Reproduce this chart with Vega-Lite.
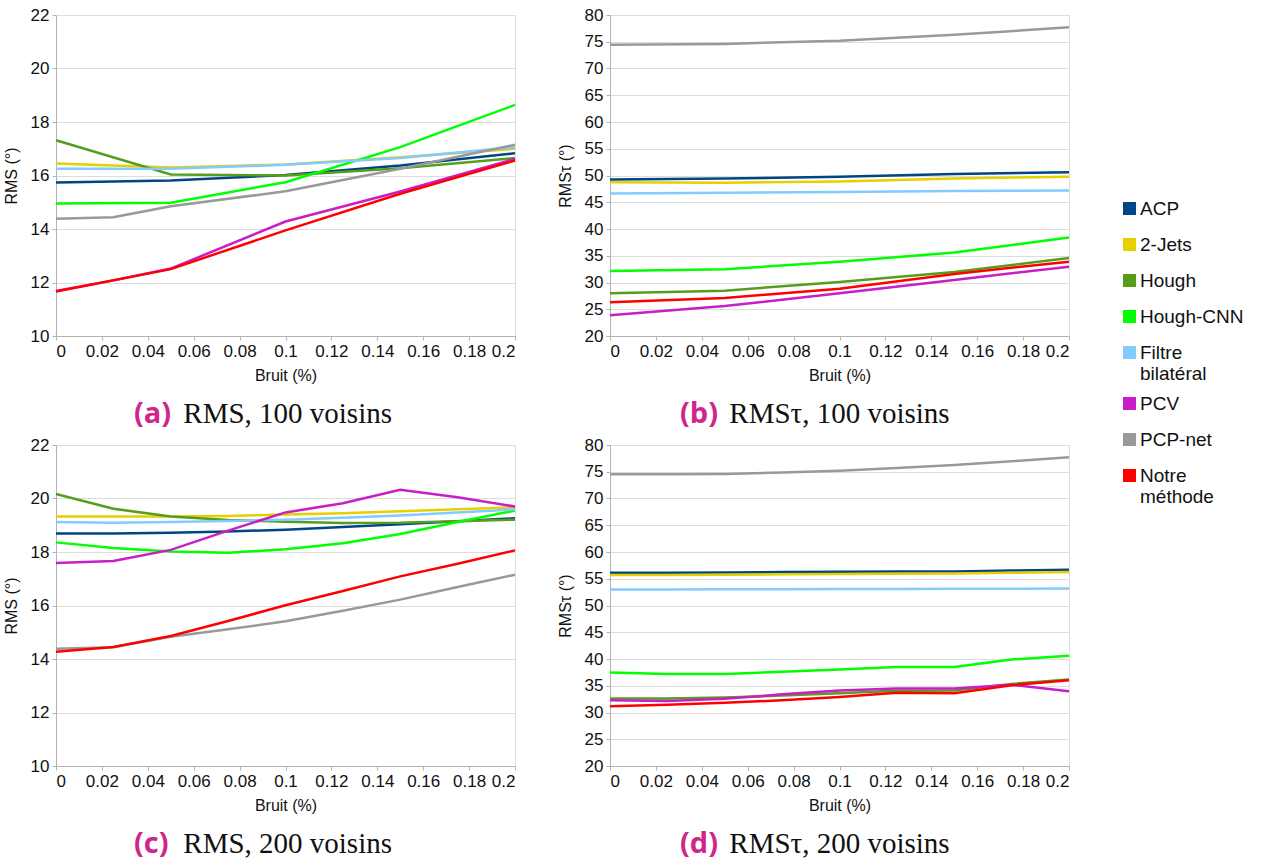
{
  "$schema": "https://vega.github.io/schema/vega-lite/v6.json",
  "background": "white",
  "padding": {"left": 2, "top": 5, "right": 5, "bottom": 5},
  "config": {
    "font": "Liberation Sans",
    "view": {"stroke": "#dddddd", "strokeWidth": 1},
    "axis": {
      "labelFont": "Liberation Sans", "labelFontSize": 17, "labelColor": "#111111",
      "titleFont": "Liberation Sans", "titleFontSize": 16, "titleFontWeight": "normal", "titleColor": "#111111",
      "domainColor": "#b3b3b3", "tickColor": "#b3b3b3", "tickSize": 4,
      "gridColor": "#dddddd", "titlePadding": 8, "labelPadding": 3
    },
    "axisX": {"grid": false},
    "axisY": {"grid": true, "titlePadding": 11},
    "title": {
      "orient": "bottom", "anchor": "start", "frame": "group", "offset": 17,
      "font": "Open Sans", "fontWeight": "bold", "fontSize": 29, "color": "#d0268c",
      "subtitleFont": "Liberation Serif", "subtitleFontSize": 29, "subtitleFontWeight": "normal", "subtitleColor": "#111111",
      "subtitlePadding": -29
    },
    "legend": {
      "symbolType": "square", "symbolSize": 42, "symbolStrokeWidth": 6.5,
      "labelFont": "Liberation Sans", "labelFontSize": 19, "labelColor": "#111111",
      "rowPadding": 3, "labelOffset": 1, "labelLimit": 300
    }
  },
  "datasets": {
    "d": [
      {"p":"a","m":"ACP","x":0,"y":15.74},{"p":"a","m":"ACP","x":0.05,"y":15.81},{"p":"a","m":"ACP","x":0.1,"y":16.02},{"p":"a","m":"ACP","x":0.15,"y":16.37},{"p":"a","m":"ACP","x":0.2,"y":16.83},
      {"p":"a","m":"2-Jets","x":0,"y":16.45},{"p":"a","m":"2-Jets","x":0.05,"y":16.3},{"p":"a","m":"2-Jets","x":0.1,"y":16.41},{"p":"a","m":"2-Jets","x":0.15,"y":16.68},{"p":"a","m":"2-Jets","x":0.2,"y":17.0},
      {"p":"a","m":"Hough","x":0,"y":17.32},{"p":"a","m":"Hough","x":0.05,"y":16.04},{"p":"a","m":"Hough","x":0.1,"y":16.0},{"p":"a","m":"Hough","x":0.15,"y":16.27},{"p":"a","m":"Hough","x":0.2,"y":16.65},
      {"p":"a","m":"Hough-CNN","x":0,"y":14.95},{"p":"a","m":"Hough-CNN","x":0.05,"y":14.98},{"p":"a","m":"Hough-CNN","x":0.1,"y":15.75},{"p":"a","m":"Hough-CNN","x":0.15,"y":17.06},{"p":"a","m":"Hough-CNN","x":0.2,"y":18.64},
      {"p":"a","m":"Filtre bilatéral","x":0,"y":16.25},{"p":"a","m":"Filtre bilatéral","x":0.05,"y":16.25},{"p":"a","m":"Filtre bilatéral","x":0.1,"y":16.4},{"p":"a","m":"Filtre bilatéral","x":0.15,"y":16.65},{"p":"a","m":"Filtre bilatéral","x":0.2,"y":17.06},
      {"p":"a","m":"PCV","x":0,"y":11.68},{"p":"a","m":"PCV","x":0.025,"y":12.08},{"p":"a","m":"PCV","x":0.05,"y":12.52},{"p":"a","m":"PCV","x":0.1,"y":14.28},{"p":"a","m":"PCV","x":0.15,"y":15.4},{"p":"a","m":"PCV","x":0.2,"y":16.62},
      {"p":"a","m":"PCP-net","x":0,"y":14.38},{"p":"a","m":"PCP-net","x":0.025,"y":14.44},{"p":"a","m":"PCP-net","x":0.05,"y":14.85},{"p":"a","m":"PCP-net","x":0.1,"y":15.41},{"p":"a","m":"PCP-net","x":0.15,"y":16.25},{"p":"a","m":"PCP-net","x":0.2,"y":17.15},
      {"p":"a","m":"Notre méthode","x":0,"y":11.66},{"p":"a","m":"Notre méthode","x":0.05,"y":12.5},{"p":"a","m":"Notre méthode","x":0.1,"y":13.95},{"p":"a","m":"Notre méthode","x":0.15,"y":15.32},{"p":"a","m":"Notre méthode","x":0.2,"y":16.56},

      {"p":"b","m":"ACP","x":0,"y":49.26},{"p":"b","m":"ACP","x":0.05,"y":49.45},{"p":"b","m":"ACP","x":0.1,"y":49.75},{"p":"b","m":"ACP","x":0.15,"y":50.3},{"p":"b","m":"ACP","x":0.2,"y":50.6},
      {"p":"b","m":"2-Jets","x":0,"y":48.76},{"p":"b","m":"2-Jets","x":0.05,"y":48.64},{"p":"b","m":"2-Jets","x":0.1,"y":48.9},{"p":"b","m":"2-Jets","x":0.15,"y":49.45},{"p":"b","m":"2-Jets","x":0.2,"y":49.75},
      {"p":"b","m":"Hough","x":0,"y":27.98},{"p":"b","m":"Hough","x":0.05,"y":28.48},{"p":"b","m":"Hough","x":0.1,"y":30.1},{"p":"b","m":"Hough","x":0.15,"y":31.96},{"p":"b","m":"Hough","x":0.2,"y":34.6},
      {"p":"b","m":"Hough-CNN","x":0,"y":32.15},{"p":"b","m":"Hough-CNN","x":0.05,"y":32.46},{"p":"b","m":"Hough-CNN","x":0.1,"y":33.9},{"p":"b","m":"Hough-CNN","x":0.15,"y":35.6},{"p":"b","m":"Hough-CNN","x":0.2,"y":38.4},
      {"p":"b","m":"Filtre bilatéral","x":0,"y":46.65},{"p":"b","m":"Filtre bilatéral","x":0.05,"y":46.77},{"p":"b","m":"Filtre bilatéral","x":0.1,"y":46.9},{"p":"b","m":"Filtre bilatéral","x":0.15,"y":47.1},{"p":"b","m":"Filtre bilatéral","x":0.2,"y":47.2},
      {"p":"b","m":"PCV","x":0,"y":23.87},{"p":"b","m":"PCV","x":0.05,"y":25.6},{"p":"b","m":"PCV","x":0.1,"y":27.98},{"p":"b","m":"PCV","x":0.15,"y":30.47},{"p":"b","m":"PCV","x":0.2,"y":32.96},
      {"p":"b","m":"PCP-net","x":0,"y":74.46},{"p":"b","m":"PCP-net","x":0.05,"y":74.6},{"p":"b","m":"PCP-net","x":0.1,"y":75.2},{"p":"b","m":"PCP-net","x":0.15,"y":76.3},{"p":"b","m":"PCP-net","x":0.2,"y":77.7},
      {"p":"b","m":"Notre méthode","x":0,"y":26.3},{"p":"b","m":"Notre méthode","x":0.05,"y":27.1},{"p":"b","m":"Notre méthode","x":0.1,"y":28.85},{"p":"b","m":"Notre méthode","x":0.15,"y":31.6},{"p":"b","m":"Notre méthode","x":0.2,"y":33.9},

      {"p":"c","m":"ACP","x":0,"y":18.69},{"p":"c","m":"ACP","x":0.025,"y":18.69},{"p":"c","m":"ACP","x":0.05,"y":18.72},{"p":"c","m":"ACP","x":0.075,"y":18.77},{"p":"c","m":"ACP","x":0.1,"y":18.83},{"p":"c","m":"ACP","x":0.125,"y":18.93},{"p":"c","m":"ACP","x":0.15,"y":19.04},{"p":"c","m":"ACP","x":0.175,"y":19.15},{"p":"c","m":"ACP","x":0.2,"y":19.26},
      {"p":"c","m":"2-Jets","x":0,"y":19.33},{"p":"c","m":"2-Jets","x":0.025,"y":19.33},{"p":"c","m":"2-Jets","x":0.05,"y":19.33},{"p":"c","m":"2-Jets","x":0.075,"y":19.35},{"p":"c","m":"2-Jets","x":0.1,"y":19.4},{"p":"c","m":"2-Jets","x":0.125,"y":19.45},{"p":"c","m":"2-Jets","x":0.15,"y":19.52},{"p":"c","m":"2-Jets","x":0.175,"y":19.6},{"p":"c","m":"2-Jets","x":0.2,"y":19.67},
      {"p":"c","m":"Hough","x":0,"y":20.17},{"p":"c","m":"Hough","x":0.025,"y":19.62},{"p":"c","m":"Hough","x":0.05,"y":19.33},{"p":"c","m":"Hough","x":0.075,"y":19.2},{"p":"c","m":"Hough","x":0.1,"y":19.13},{"p":"c","m":"Hough","x":0.125,"y":19.08},{"p":"c","m":"Hough","x":0.15,"y":19.09},{"p":"c","m":"Hough","x":0.175,"y":19.15},{"p":"c","m":"Hough","x":0.2,"y":19.21},
      {"p":"c","m":"Hough-CNN","x":0,"y":18.36},{"p":"c","m":"Hough-CNN","x":0.025,"y":18.15},{"p":"c","m":"Hough-CNN","x":0.05,"y":18.02},{"p":"c","m":"Hough-CNN","x":0.075,"y":17.97},{"p":"c","m":"Hough-CNN","x":0.1,"y":18.1},{"p":"c","m":"Hough-CNN","x":0.125,"y":18.33},{"p":"c","m":"Hough-CNN","x":0.15,"y":18.67},{"p":"c","m":"Hough-CNN","x":0.175,"y":19.12},{"p":"c","m":"Hough-CNN","x":0.2,"y":19.55},
      {"p":"c","m":"Filtre bilatéral","x":0,"y":19.12},{"p":"c","m":"Filtre bilatéral","x":0.025,"y":19.09},{"p":"c","m":"Filtre bilatéral","x":0.05,"y":19.12},{"p":"c","m":"Filtre bilatéral","x":0.075,"y":19.16},{"p":"c","m":"Filtre bilatéral","x":0.1,"y":19.21},{"p":"c","m":"Filtre bilatéral","x":0.125,"y":19.28},{"p":"c","m":"Filtre bilatéral","x":0.15,"y":19.36},{"p":"c","m":"Filtre bilatéral","x":0.175,"y":19.48},{"p":"c","m":"Filtre bilatéral","x":0.2,"y":19.59},
      {"p":"c","m":"PCV","x":0,"y":17.59},{"p":"c","m":"PCV","x":0.025,"y":17.66},{"p":"c","m":"PCV","x":0.05,"y":18.08},{"p":"c","m":"PCV","x":0.075,"y":18.8},{"p":"c","m":"PCV","x":0.1,"y":19.48},{"p":"c","m":"PCV","x":0.125,"y":19.82},{"p":"c","m":"PCV","x":0.15,"y":20.33},{"p":"c","m":"PCV","x":0.175,"y":20.05},{"p":"c","m":"PCV","x":0.2,"y":19.7},
      {"p":"c","m":"PCP-net","x":0,"y":14.38},{"p":"c","m":"PCP-net","x":0.025,"y":14.44},{"p":"c","m":"PCP-net","x":0.05,"y":14.83},{"p":"c","m":"PCP-net","x":0.075,"y":15.11},{"p":"c","m":"PCP-net","x":0.1,"y":15.41},{"p":"c","m":"PCP-net","x":0.125,"y":15.8},{"p":"c","m":"PCP-net","x":0.15,"y":16.22},{"p":"c","m":"PCP-net","x":0.175,"y":16.69},{"p":"c","m":"PCP-net","x":0.2,"y":17.15},
      {"p":"c","m":"Notre méthode","x":0,"y":14.27},{"p":"c","m":"Notre méthode","x":0.025,"y":14.45},{"p":"c","m":"Notre méthode","x":0.05,"y":14.86},{"p":"c","m":"Notre méthode","x":0.075,"y":15.42},{"p":"c","m":"Notre méthode","x":0.1,"y":16.01},{"p":"c","m":"Notre méthode","x":0.125,"y":16.54},{"p":"c","m":"Notre méthode","x":0.15,"y":17.09},{"p":"c","m":"Notre méthode","x":0.175,"y":17.56},{"p":"c","m":"Notre méthode","x":0.2,"y":18.06},

      {"p":"d","m":"ACP","x":0,"y":56.12},{"p":"d","m":"ACP","x":0.025,"y":56.14},{"p":"d","m":"ACP","x":0.05,"y":56.18},{"p":"d","m":"ACP","x":0.075,"y":56.24},{"p":"d","m":"ACP","x":0.1,"y":56.3},{"p":"d","m":"ACP","x":0.125,"y":56.34},{"p":"d","m":"ACP","x":0.15,"y":56.37},{"p":"d","m":"ACP","x":0.175,"y":56.52},{"p":"d","m":"ACP","x":0.2,"y":56.68},
      {"p":"d","m":"2-Jets","x":0,"y":55.68},{"p":"d","m":"2-Jets","x":0.025,"y":55.72},{"p":"d","m":"2-Jets","x":0.05,"y":55.76},{"p":"d","m":"2-Jets","x":0.075,"y":55.82},{"p":"d","m":"2-Jets","x":0.1,"y":55.87},{"p":"d","m":"2-Jets","x":0.125,"y":55.94},{"p":"d","m":"2-Jets","x":0.15,"y":56.0},{"p":"d","m":"2-Jets","x":0.175,"y":56.12},{"p":"d","m":"2-Jets","x":0.2,"y":56.25},
      {"p":"d","m":"Hough","x":0,"y":32.6},{"p":"d","m":"Hough","x":0.025,"y":32.6},{"p":"d","m":"Hough","x":0.05,"y":32.8},{"p":"d","m":"Hough","x":0.075,"y":33.17},{"p":"d","m":"Hough","x":0.1,"y":33.6},{"p":"d","m":"Hough","x":0.125,"y":34.05},{"p":"d","m":"Hough","x":0.15,"y":34.1},{"p":"d","m":"Hough","x":0.175,"y":35.35},{"p":"d","m":"Hough","x":0.2,"y":36.16},
      {"p":"d","m":"Hough-CNN","x":0,"y":37.46},{"p":"d","m":"Hough-CNN","x":0.025,"y":37.2},{"p":"d","m":"Hough-CNN","x":0.05,"y":37.2},{"p":"d","m":"Hough-CNN","x":0.075,"y":37.6},{"p":"d","m":"Hough-CNN","x":0.1,"y":38.02},{"p":"d","m":"Hough-CNN","x":0.125,"y":38.52},{"p":"d","m":"Hough-CNN","x":0.15,"y":38.52},{"p":"d","m":"Hough-CNN","x":0.175,"y":39.9},{"p":"d","m":"Hough-CNN","x":0.2,"y":40.63},
      {"p":"d","m":"Filtre bilatéral","x":0,"y":53.0},{"p":"d","m":"Filtre bilatéral","x":0.025,"y":53.0},{"p":"d","m":"Filtre bilatéral","x":0.05,"y":53.02},{"p":"d","m":"Filtre bilatéral","x":0.075,"y":53.04},{"p":"d","m":"Filtre bilatéral","x":0.1,"y":53.07},{"p":"d","m":"Filtre bilatéral","x":0.125,"y":53.1},{"p":"d","m":"Filtre bilatéral","x":0.15,"y":53.12},{"p":"d","m":"Filtre bilatéral","x":0.175,"y":53.15},{"p":"d","m":"Filtre bilatéral","x":0.2,"y":53.18},
      {"p":"d","m":"PCV","x":0,"y":32.3},{"p":"d","m":"PCV","x":0.025,"y":32.17},{"p":"d","m":"PCV","x":0.05,"y":32.55},{"p":"d","m":"PCV","x":0.075,"y":33.4},{"p":"d","m":"PCV","x":0.1,"y":34.1},{"p":"d","m":"PCV","x":0.125,"y":34.48},{"p":"d","m":"PCV","x":0.15,"y":34.48},{"p":"d","m":"PCV","x":0.175,"y":35.2},{"p":"d","m":"PCV","x":0.2,"y":33.98},
      {"p":"d","m":"PCP-net","x":0,"y":74.53},{"p":"d","m":"PCP-net","x":0.025,"y":74.55},{"p":"d","m":"PCP-net","x":0.05,"y":74.6},{"p":"d","m":"PCP-net","x":0.075,"y":74.85},{"p":"d","m":"PCP-net","x":0.1,"y":75.2},{"p":"d","m":"PCP-net","x":0.125,"y":75.7},{"p":"d","m":"PCP-net","x":0.15,"y":76.27},{"p":"d","m":"PCP-net","x":0.175,"y":76.95},{"p":"d","m":"PCP-net","x":0.2,"y":77.7},
      {"p":"d","m":"Notre méthode","x":0,"y":31.18},{"p":"d","m":"Notre méthode","x":0.025,"y":31.43},{"p":"d","m":"Notre méthode","x":0.05,"y":31.8},{"p":"d","m":"Notre méthode","x":0.075,"y":32.3},{"p":"d","m":"Notre méthode","x":0.1,"y":32.92},{"p":"d","m":"Notre méthode","x":0.125,"y":33.67},{"p":"d","m":"Notre méthode","x":0.15,"y":33.6},{"p":"d","m":"Notre méthode","x":0.175,"y":35.1},{"p":"d","m":"Notre méthode","x":0.2,"y":36.03}
    ]
  },
  "data": {"name": "d"},
  "spacing": 5,
  "vconcat": [
    {
      "spacing": 35,
      "hconcat": [
        {
          "width": 459, "height": 321,
          "title": {"text": "(a)", "subtitle": "\u200b\u00a0\u00a0\u00a0\u00a0\u00a0\u00a0\u2009RMS, 100 voisins", "dx": 78},
          "transform": [{"filter": "datum.p == 'a'"}],
          "mark": {"type": "line", "strokeWidth": 2.5},
          "encoding": {
            "x": {"field": "x", "type": "quantitative", "scale": {"domain": [0, 0.2], "nice": false}, "axis": {"values": [0,0.02,0.04,0.06,0.08,0.1,0.12,0.14,0.16,0.18,0.2], "format": "~g", "title": "Bruit (%)"}},
            "y": {"field": "y", "type": "quantitative", "scale": {"domain": [10, 22], "nice": false}, "axis": {"values": [10,12,14,16,18,20,22], "title": "RMS (°)"}},
            "color": {"field": "m", "type": "nominal", "scale": {"domain": ["ACP","2-Jets","Hough","Hough-CNN","Filtre bilatéral","PCV","PCP-net","Notre méthode"], "range": ["#004586","#e6d000","#579d1c","#00ff00","#83caff","#c71ec7","#999999","#ff0000"]}, "legend": {"title": null, "orient": "none", "legendX": 1064, "legendY": 184, "labelExpr": "datum.label == 'Filtre bilatéral' ? ['Filtre', 'bilatéral'] : datum.label == 'Notre méthode' ? ['Notre', 'méthode'] : datum.label"}}
          }
        },
        {
          "width": 459, "height": 321,
          "title": {"text": "(b)", "subtitle": "\u200b\u00a0\u00a0\u00a0\u00a0\u00a0\u00a0\u2009RMSτ, 100 voisins", "dx": 70},
          "transform": [{"filter": "datum.p == 'b'"}],
          "mark": {"type": "line", "strokeWidth": 2.5},
          "encoding": {
            "x": {"field": "x", "type": "quantitative", "scale": {"domain": [0, 0.2], "nice": false}, "axis": {"values": [0,0.02,0.04,0.06,0.08,0.1,0.12,0.14,0.16,0.18,0.2], "format": "~g", "title": "Bruit (%)"}},
            "y": {"field": "y", "type": "quantitative", "scale": {"domain": [20, 80], "nice": false}, "axis": {"values": [20,25,30,35,40,45,50,55,60,65,70,75,80], "title": "RMSτ (°)"}},
            "color": {"field": "m", "type": "nominal", "scale": {"domain": ["ACP","2-Jets","Hough","Hough-CNN","Filtre bilatéral","PCV","PCP-net","Notre méthode"], "range": ["#004586","#e6d000","#579d1c","#00ff00","#83caff","#c71ec7","#999999","#ff0000"]}, "legend": {"title": null, "orient": "none", "legendX": 1064, "legendY": 184, "labelExpr": "datum.label == 'Filtre bilatéral' ? ['Filtre', 'bilatéral'] : datum.label == 'Notre méthode' ? ['Notre', 'méthode'] : datum.label"}}
          }
        }
      ]
    },
    {
      "spacing": 35,
      "hconcat": [
        {
          "width": 459, "height": 321,
          "title": {"text": "(c)", "subtitle": "\u200b\u00a0\u00a0\u00a0\u00a0\u00a0\u00a0\u2009RMS, 200 voisins", "dx": 78},
          "transform": [{"filter": "datum.p == 'c'"}],
          "mark": {"type": "line", "strokeWidth": 2.5},
          "encoding": {
            "x": {"field": "x", "type": "quantitative", "scale": {"domain": [0, 0.2], "nice": false}, "axis": {"values": [0,0.02,0.04,0.06,0.08,0.1,0.12,0.14,0.16,0.18,0.2], "format": "~g", "title": "Bruit (%)"}},
            "y": {"field": "y", "type": "quantitative", "scale": {"domain": [10, 22], "nice": false}, "axis": {"values": [10,12,14,16,18,20,22], "title": "RMS (°)"}},
            "color": {"field": "m", "type": "nominal", "scale": {"domain": ["ACP","2-Jets","Hough","Hough-CNN","Filtre bilatéral","PCV","PCP-net","Notre méthode"], "range": ["#004586","#e6d000","#579d1c","#00ff00","#83caff","#c71ec7","#999999","#ff0000"]}, "legend": {"title": null, "orient": "none", "legendX": 1064, "legendY": 184, "labelExpr": "datum.label == 'Filtre bilatéral' ? ['Filtre', 'bilatéral'] : datum.label == 'Notre méthode' ? ['Notre', 'méthode'] : datum.label"}}
          }
        },
        {
          "width": 459, "height": 321,
          "title": {"text": "(d)", "subtitle": "\u200b\u00a0\u00a0\u00a0\u00a0\u00a0\u00a0\u2009RMSτ, 200 voisins", "dx": 70},
          "transform": [{"filter": "datum.p == 'd'"}],
          "mark": {"type": "line", "strokeWidth": 2.5},
          "encoding": {
            "x": {"field": "x", "type": "quantitative", "scale": {"domain": [0, 0.2], "nice": false}, "axis": {"values": [0,0.02,0.04,0.06,0.08,0.1,0.12,0.14,0.16,0.18,0.2], "format": "~g", "title": "Bruit (%)"}},
            "y": {"field": "y", "type": "quantitative", "scale": {"domain": [20, 80], "nice": false}, "axis": {"values": [20,25,30,35,40,45,50,55,60,65,70,75,80], "title": "RMSτ (°)"}},
            "color": {"field": "m", "type": "nominal", "scale": {"domain": ["ACP","2-Jets","Hough","Hough-CNN","Filtre bilatéral","PCV","PCP-net","Notre méthode"], "range": ["#004586","#e6d000","#579d1c","#00ff00","#83caff","#c71ec7","#999999","#ff0000"]}, "legend": {"title": null, "orient": "none", "legendX": 1064, "legendY": 184, "labelExpr": "datum.label == 'Filtre bilatéral' ? ['Filtre', 'bilatéral'] : datum.label == 'Notre méthode' ? ['Notre', 'méthode'] : datum.label"}}
          }
        }
      ]
    }
  ]
}
